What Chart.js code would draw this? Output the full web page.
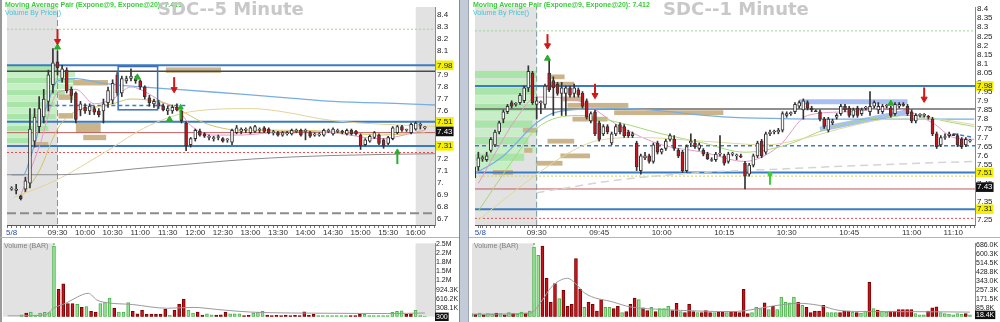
<!DOCTYPE html>
<html><head><meta charset="utf-8">
<script src="https://cdn.jsdelivr.net/npm/chart.js@4.4.1/dist/chart.umd.min.js"></script>
<style>
html,body{margin:0;padding:0;background:#fff;width:1000px;height:322px;overflow:hidden;font-family:"Liberation Sans",Arial,sans-serif}
canvas{position:absolute}
.t{position:absolute;white-space:nowrap;z-index:5}
.ln{position:absolute;z-index:4}
</style></head><body>
<canvas id="lp" style="left:0px;top:0px" width="460" height="238"></canvas>
<canvas id="lv" style="left:0px;top:238px" width="460" height="84"></canvas>
<canvas id="rp" style="left:468px;top:0px" width="532" height="238"></canvas>
<canvas id="rv" style="left:468px;top:238px" width="532" height="84"></canvas>
<div class="ln" style="left:0;top:0;width:2px;height:322px;background:#9a9a9a"></div>
<div class="ln" style="left:459px;top:0;width:10px;height:322px;background:#c3cbd8;border-left:1px solid #7d889c;border-right:1px solid #9aa4b6;box-sizing:border-box"></div>
<div class="ln" style="left:0;top:237px;width:459px;height:1px;background:#b4b4b4"></div>
<div class="ln" style="left:469px;top:237px;width:531px;height:1px;background:#b4b4b4"></div>
<div class="t" style="left:5px;top:1px;font:bold 7px 'Liberation Sans';color:#3ccc3c">Moving Average Pair (Expone@9, Expone@20): 7.419</div>
<div class="t" style="left:5px;top:9px;font:7px 'Liberation Sans';color:#3cc8d8">Volume By Price()</div>
<div class="t" style="left:158px;top:-2px;font:bold 18px 'DejaVu Sans';color:#c8c8c8">SDC--5 Minute</div>
<div class="t" style="left:473px;top:1px;font:bold 7px 'Liberation Sans';color:#3ccc3c">Moving Average Pair (Expone@9, Expone@20): 7.412</div>
<div class="t" style="left:473px;top:9px;font:7px 'Liberation Sans';color:#3cc8d8">Volume By Price()</div>
<div class="t" style="left:663px;top:-2px;font:bold 18px 'DejaVu Sans';color:#c8c8c8">SDC--1 Minute</div>
<div class="t" style="left:4px;top:242px;font:7px 'Liberation Sans';color:#808080">Volume (BAR)</div>
<div class="t" style="left:474px;top:242px;font:7px 'Liberation Sans';color:#808080">Volume (BAR)</div>
<script>
// ================= LEFT PANEL: 5-minute (t = minutes from 09:30) =================
const leftT = [-50,-45,-40,-35,-30,-25,-20,-15,-10,-5,0,5,10,15,20,25,30,35,40,45,50,55,60,65,70,75,80,85,90,95,100,105,110,115,120,125,130,135,140,145,150,155,160,165,170,175,180,185,190,195,200,205,210,215,220,225,230,235,240,245,250,255,260,265,270,275,280,285,290,295,300,305,310,315,320,325,330,335,340,345,350,355,360,365,370,375,380,385,390,395,400];
const leftO = [6.95,6.94,6.89,6.95,7.00,7.35,7.47,7.55,7.68,7.82,8.01,7.87,7.94,7.78,7.75,7.61,7.63,7.60,7.62,7.60,7.60,7.67,7.69,7.90,7.75,7.85,7.87,7.87,7.85,7.80,7.71,7.66,7.67,7.64,7.60,7.60,7.63,7.60,7.50,7.32,7.37,7.43,7.41,7.38,7.37,7.38,7.37,7.36,7.34,7.42,7.43,7.44,7.42,7.43,7.44,7.46,7.45,7.42,7.42,7.40,7.41,7.41,7.43,7.44,7.43,7.42,7.40,7.40,7.40,7.43,7.41,7.43,7.43,7.41,7.44,7.43,7.40,7.32,7.35,7.38,7.40,7.36,7.33,7.37,7.42,7.47,7.44,7.42,7.45,7.48,7.46];
const leftH = [6.97,6.99,6.90,7.05,7.62,7.62,7.72,7.78,7.94,8.12,8.10,7.98,7.96,7.80,7.76,7.68,7.66,7.66,7.64,7.62,7.70,7.80,7.86,7.92,7.89,7.89,7.95,7.89,7.86,7.81,7.73,7.70,7.69,7.66,7.64,7.65,7.66,7.61,7.51,7.38,7.45,7.45,7.42,7.40,7.39,7.40,7.38,7.37,7.45,7.48,7.46,7.46,7.47,7.48,7.46,7.47,7.46,7.44,7.43,7.43,7.43,7.45,7.45,7.45,7.45,7.43,7.42,7.42,7.45,7.45,7.46,7.45,7.44,7.45,7.45,7.44,7.41,7.37,7.40,7.43,7.41,7.37,7.39,7.47,7.48,7.48,7.45,7.50,7.51,7.50,7.47];
const leftL = [6.94,6.91,6.86,6.93,6.96,7.30,7.42,7.50,7.60,7.75,7.90,7.84,7.75,7.67,7.50,7.56,7.58,7.57,7.57,7.55,7.50,7.63,7.66,7.73,7.72,7.83,7.85,7.83,7.78,7.70,7.64,7.63,7.62,7.60,7.57,7.58,7.60,7.50,7.27,7.30,7.35,7.39,7.38,7.36,7.35,7.36,7.34,7.34,7.32,7.41,7.41,7.42,7.41,7.42,7.42,7.42,7.41,7.40,7.39,7.39,7.40,7.40,7.42,7.39,7.36,7.38,7.39,7.39,7.39,7.42,7.40,7.42,7.41,7.40,7.40,7.40,7.28,7.31,7.34,7.37,7.32,7.29,7.32,7.36,7.41,7.43,7.43,7.41,7.44,7.45,7.45];
const leftC = [6.955,6.95,6.87,7.02,7.45,7.55,7.62,7.70,7.90,8.00,7.96,7.95,7.77,7.73,7.53,7.66,7.60,7.64,7.59,7.57,7.66,7.77,7.83,7.75,7.87,7.87,7.89,7.85,7.80,7.72,7.67,7.68,7.64,7.61,7.62,7.63,7.61,7.52,7.31,7.37,7.44,7.40,7.39,7.39,7.375,7.385,7.35,7.365,7.44,7.46,7.45,7.445,7.46,7.47,7.445,7.43,7.42,7.425,7.40,7.42,7.415,7.44,7.435,7.40,7.435,7.39,7.405,7.405,7.44,7.435,7.45,7.435,7.425,7.44,7.41,7.41,7.31,7.36,7.39,7.42,7.33,7.31,7.38,7.46,7.47,7.44,7.445,7.49,7.50,7.485,7.465];
const leftVolT = [-35,-30,-25,-20,-15,-10,-5,0,5,10,15,20,25,30,35,40,45,50,55,60,65,70,75,80,85,90,95,100,105,110,115,120,125,130,135,140,145,150,155,160,165,170,175,180,185,190,195,200,205,210,215,220,225,230,235,240,245,250,255,260,265,270,275,280,285,290,295,300,305,310,315,320,325,330,335,340,345,350,355,360,365,370,375,380,385,390,395,400];
const leftVol = [64e3,130e3,160e3,60e3,130e3,150e3,140e3,2400e3,930e3,1120e3,450e3,450e3,420e3,320e3,350e3,190e3,160e3,450e3,480e3,640e3,290e3,160e3,160e3,480e3,190e3,100e3,220e3,90e3,90e3,90e3,90e3,260e3,60e3,220e3,420e3,600e3,220e3,130e3,160e3,60e3,100e3,70e3,60e3,70e3,160e3,100e3,100e3,100e3,40e3,50e3,130e3,150e3,190e3,60e3,45e3,50e3,40e3,55e3,45e3,50e3,40e3,170e3,50e3,80e3,40e3,45e3,40e3,45e3,40e3,40e3,45e3,40e3,45e3,80e3,80e3,40e3,45e3,40e3,40e3,45e3,150e3,190e3,200e3,80e3,100e3,220e3,40e3,20e3];
const leftVolDir = ['u','d','u','u','u','u','u','u','d','d','d','d','u','d','u','d','d','u','u','u','d','u','u','u','d','d','d','d','d','d','d','d','u','d','d','d','u','u','d','d','u','u','d','d','d','u','u','u','d','d','u','u','u','d','d','d','d','d','d','d','d','d','d','d','u','u','u','u','u','u','u','d','d','d','u','u','u','u','u','u','u','u','u','d','d','u','u','u'];
const leftVolAvgT = [-50,-10,0,14,25,37,46,53,85,122,150,176,212,300,360,400];
const leftVolAvg = [30e3,60e3,300e3,480e3,670e3,800e3,576e3,500e3,416e3,290e3,320e3,250e3,160e3,120e3,110e3,130e3];
// moving averages
const leftVwapT = [-50,-37,-30,-20,-10,0,20,50,130,200,250,300,380,411];
const leftVwap  = [7.07,7.07,7.2,7.45,7.68,7.85,7.87,7.83,7.78,7.74,7.71,7.68,7.66,7.65];
const leftSmaT = [-55,0,100,211,300,411];
const leftSma  = [7.07,7.07,7.13,7.20,7.23,7.245];
const leftEma9T = [-40,-20,0,20,40,60,80,100,115,130,145,170,200,250,300,350,400];
const leftEma9  = [6.90,7.30,7.75,7.78,7.66,7.70,7.80,7.74,7.67,7.62,7.48,7.40,7.40,7.43,7.42,7.37,7.44];
const leftEma20T = [-40,-20,0,20,40,60,80,100,120,140,160,200,250,300,350,400];
const leftEma20  = [6.88,7.10,7.45,7.60,7.63,7.66,7.70,7.69,7.66,7.58,7.50,7.44,7.44,7.43,7.40,7.42];
const leftSlowT = [-48,0,50,100,150,211,240,300,411];
const leftSlow  = [6.88,7.03,7.25,7.48,7.60,7.62,7.60,7.52,7.47];
// levels
const leftLevels = {blue:[7.98,7.51,7.31], dark:[7.93], red:[7.42], redDot:[7.255], greenDot:[8.28], grayDash:[6.75]};
const leftDashBlue = {price:7.645, from:-10, to:140};
// volume by price
const leftVbpPrice = [7.95,7.90,7.85,7.80,7.75,7.70,7.65,7.60,7.55,7.50,7.45,7.40,7.35];
const leftVbpEnd   = [0,19,19,17,8,0,-3,0,-2,-8,-10,-20,-30];
const leftTanPrice = [7.94,7.835,7.715,7.56,7.48,7.44,7.38,7.32];
const leftTanStart = [118,17,1,1,20,20,28,-25];
const leftTanEnd   = [178,55,17,17,47,47,53,-10];
// markers
const leftRedArrowT = [0,127], leftRedArrowP = [8.18,7.78];
const leftGreenTriT = [0,87,122], leftGreenTriP = [8.13,7.88,7.53];
const leftGreenArrowT = [134,370], leftGreenArrowP = [7.63,7.26];
const leftBox = {t0:66, t1:109, p0:7.61, p1:7.97};
// axes
const leftPriceTicks  = [8.4,8.3,8.2,8.1,7.98,7.9,7.8,7.7,7.6,7.51,7.43,7.31,7.2,7.1,7.0,6.9,6.8,6.7];
const leftPriceLabels = ['8.4','8.3','8.2','8.1','7.98','7.9','7.8','7.7','7.6','7.51','7.43','7.31','7.2','7.1','7.','6.9','6.8','6.7'];
const leftTimeTicks  = [-50,0,30,60,90,120,150,180,210,240,270,300,330,360,390];
const leftTimeLabels = ['5/8','09:30','10:00','10:30','11:00','11:30','12:00','12:30','13:00','13:30','14:00','14:30','15:00','15:30','16:00'];
const leftVolTicks  = [0,308100,616200,924300,1232400,1540500,1848600,2156700,2464800];
const leftVolLabels = ['300','308.1K','616.2K','924.3K','1.2M','1.5M','1.8M','2.2M','2.5M'];

// ================= RIGHT PANEL: 1-minute =================
const rightT = [-15,-14,-13,-12,-11,-10,-9,-8,-7,-6,-5,-4,-3,-2,-1,0,1,2,3,4,5,6,7,8,9,10,11,12,13,14,15,16,17,18,19,20,21,22,23,24,25,26,27,28,29,30,31,32,33,34,35,36,37,38,39,40,41,42,43,44,45,46,47,48,49,50,51,52,53,54,55,56,57,58,59,60,61,62,63,64,65,66,67,68,69,70,71,72,73,74,75,76,77,78,79,80,81,82,83,84,85,86,87,88,89,90,91,92,93,94,95,96,97,98,99,100,101,102,103,104];
const rightO = [7.48,7.54,7.585,7.58,7.63,7.66,7.73,7.80,7.84,7.89,7.88,7.89,7.90,7.97,8.05,7.88,7.89,7.88,8.05,8.01,7.99,7.94,7.94,7.97,7.94,7.96,7.94,7.90,7.79,7.84,7.78,7.72,7.76,7.67,7.72,7.77,7.76,7.73,7.71,7.67,7.52,7.59,7.60,7.57,7.67,7.62,7.64,7.69,7.69,7.63,7.62,7.52,7.67,7.67,7.64,7.63,7.61,7.575,7.58,7.61,7.60,7.57,7.61,7.60,7.60,7.56,7.50,7.55,7.60,7.68,7.62,7.72,7.73,7.73,7.74,7.82,7.83,7.84,7.87,7.85,7.89,7.86,7.845,7.84,7.80,7.74,7.78,7.81,7.83,7.87,7.86,7.82,7.86,7.83,7.86,7.84,7.87,7.85,7.84,7.87,7.86,7.83,7.87,7.88,7.87,7.84,7.79,7.82,7.82,7.815,7.80,7.72,7.66,7.70,7.71,7.715,7.71,7.69,7.66,7.68];
const rightH = [7.56,7.62,7.60,7.62,7.70,7.74,7.79,7.85,7.88,7.90,7.89,7.94,7.98,8.09,8.06,7.92,7.90,7.99,8.12,8.03,8.00,8.00,7.98,7.98,7.99,7.97,7.95,7.91,7.84,7.85,7.79,7.77,7.77,7.73,7.77,7.78,7.77,7.74,7.73,7.68,7.61,7.62,7.61,7.67,7.68,7.64,7.69,7.72,7.71,7.64,7.63,7.66,7.72,7.69,7.67,7.64,7.62,7.59,7.62,7.71,7.61,7.62,7.62,7.61,7.61,7.57,7.56,7.61,7.68,7.69,7.73,7.74,7.74,7.75,7.84,7.84,7.84,7.89,7.90,7.91,7.90,7.87,7.85,7.85,7.81,7.81,7.80,7.83,7.88,7.88,7.87,7.86,7.87,7.86,7.87,7.95,7.90,7.89,7.88,7.88,7.87,7.89,7.89,7.89,7.88,7.85,7.83,7.83,7.83,7.82,7.81,7.73,7.71,7.72,7.73,7.72,7.72,7.70,7.70,7.69];
const rightL = [7.45,7.52,7.57,7.57,7.62,7.65,7.72,7.78,7.83,7.86,7.87,7.88,7.89,7.95,7.88,7.80,7.83,7.86,7.95,7.82,7.93,7.82,7.82,7.92,7.92,7.92,7.86,7.80,7.78,7.71,7.68,7.71,7.72,7.66,7.71,7.72,7.70,7.70,7.70,7.52,7.50,7.58,7.56,7.56,7.61,7.61,7.63,7.68,7.63,7.59,7.51,7.51,7.65,7.64,7.63,7.60,7.58,7.57,7.57,7.60,7.55,7.56,7.60,7.58,7.59,7.42,7.49,7.54,7.59,7.59,7.61,7.71,7.72,7.72,7.73,7.81,7.82,7.83,7.86,7.80,7.85,7.84,7.84,7.79,7.75,7.73,7.77,7.80,7.82,7.84,7.81,7.81,7.81,7.82,7.85,7.82,7.86,7.83,7.83,7.86,7.81,7.82,7.86,7.87,7.82,7.78,7.78,7.81,7.81,7.80,7.71,7.64,7.65,7.69,7.70,7.71,7.65,7.64,7.65,7.675];
const rightC = [7.54,7.59,7.59,7.60,7.69,7.73,7.78,7.84,7.87,7.87,7.885,7.93,7.97,8.06,7.89,7.90,7.895,7.98,7.96,7.97,7.94,7.97,7.97,7.93,7.97,7.93,7.87,7.81,7.83,7.72,7.69,7.76,7.73,7.72,7.76,7.73,7.71,7.71,7.72,7.54,7.60,7.60,7.57,7.66,7.62,7.635,7.68,7.71,7.64,7.60,7.52,7.65,7.68,7.65,7.66,7.61,7.585,7.58,7.61,7.615,7.56,7.61,7.615,7.605,7.595,7.49,7.55,7.60,7.67,7.60,7.72,7.73,7.735,7.74,7.83,7.83,7.835,7.88,7.89,7.90,7.86,7.85,7.84,7.80,7.76,7.80,7.79,7.82,7.87,7.85,7.82,7.85,7.82,7.85,7.865,7.87,7.89,7.87,7.87,7.875,7.82,7.88,7.88,7.875,7.83,7.79,7.82,7.825,7.82,7.81,7.72,7.65,7.70,7.705,7.72,7.71,7.66,7.65,7.69,7.68];
const rightVol = [30e3,25e3,35e3,20e3,30e3,25e3,35e3,30e3,20e3,40e3,30e3,25e3,45e3,35e3,55e3,670e3,590e3,680e3,370e3,140e3,320e3,175e3,255e3,100e3,120e3,560e3,265e3,90e3,140e3,120e3,55e3,165e3,90e3,90e3,80e3,100e3,40e3,50e3,120e3,180e3,165e3,85e3,60e3,90e3,50e3,80e3,80e3,100e3,60e3,130e3,50e3,40e3,120e3,50e3,40e3,40e3,60e3,40e3,40e3,50e3,50e3,40e3,50e3,50e3,40e3,265e3,30e3,40e3,90e3,80e3,135e3,70e3,100e3,70e3,190e3,140e3,135e3,190e3,140e3,110e3,90e3,40e3,55e3,55e3,110e3,40e3,40e3,40e3,40e3,55e3,55e3,45e3,40e3,35e3,55e3,330e3,80e3,65e3,55e3,45e3,55e3,55e3,70e3,70e3,70e3,70e3,30e3,20e3,20e3,55e3,85e3,95e3,40e3,30e3,25e3,20e3,30e3,25e3,30e3,18.4e3];
const rightVolDir = ['u','d','u','d','u','u','d','u','d','u','d','u','u','d','u','u','u','d','d','d','d','u','d','d','d','d','d','u','d','d','d','d','u','u','d','d','u','d','d','d','u','d','d','u','d','u','u','u','d','d','u','d','d','d','u','d','d','d','u','d','d','u','d','d','d','d','d','u','u','u','d','u','d','u','u','u','u','u','d','u','d','d','d','d','d','u','u','u','d','d','d','u','d','u','u','d','u','d','u','u','d','d','d','d','d','d','u','u','u','d','d','d','u','u','u','u','u','u','d','u'];
const rightVolAvgT = [-15,-1,2,4,8,10,12,19,23,31,47,59,63,68,73,80,87,104];
const rightVolAvg  = [25e3,35e3,160e3,280e3,370e3,315e3,230e3,140e3,95e3,70e3,50e3,115e3,130e3,110e3,60e3,50e3,50e3,45e3];
const rightVwapT = [-15,-8,0,5,19,47,80,105];
const rightVwap  = [7.50,7.60,7.78,7.84,7.86,7.81,7.80,7.80];
const rightSmaT = [0,20,40,60,80,105];
const rightSma  = [7.40,7.47,7.51,7.53,7.55,7.57];
const rightEma20T = [-14,-8,0,8,14,25,40,55,65,75,85,95,105];
const rightEma20  = [7.25,7.36,7.50,7.62,7.68,7.70,7.68,7.66,7.70,7.76,7.80,7.80,7.77];
const rightEma9T = [-14,-5,0,10,20,30,40,50,58,65,75,85,95,100,105];
const rightEma9  = [7.45,7.80,7.92,7.90,7.76,7.66,7.62,7.57,7.65,7.82,7.84,7.86,7.78,7.70,7.69];
const rightGreenMaT = [-14,-5,0,10,20,30,40,50,60,70,80,90,100,105];
const rightGreenMa  = [7.30,7.60,7.75,7.82,7.78,7.72,7.67,7.62,7.66,7.75,7.80,7.82,7.78,7.76];
const rightLevels = {blue:[7.98,7.51,7.31], dark:[7.855], red:[7.42], redDot:[7.26], greenDot:[8.28], yellowDot:[7.49], blueDash:[7.655]};
const rightTrendT = [100,105], rightTrendP = [7.72,7.70];
const rightBandT = [[63,89],[68,89]], rightBandP = [[7.895,7.895],[7.745,7.84]];
const rightVbpPrice = [8.04,7.995,7.95,7.905,7.86,7.815,7.77,7.725,7.68,7.635,7.59,7.545];
const rightVbpEnd   = [0,0,0,0,0,0,-1,0,-2,0,-3,-6];
const rightTanPrice = [8.03,7.99,7.91,7.875,7.835,7.80,7.74,7.68,7.63,7.60,7.56,7.51];
const rightTanStart = [3.3,3.3,6.2,7.4,18.6,8.6,-3.3,2.6,-3,5.7,-0.2,-10.5];
const rightTanEnd   = [6.7,9,11.4,22,44.8,17,0.2,9,-1,12.8,6.2,-5.7];
const rightRedArrowT = [2.6,14,93], rightRedArrowP = [8.20,7.93,7.91];
const rightGreenTriT = [2.6,85], rightGreenTriP = [8.13,7.885];
const rightGreenArrowT = [56], rightGreenArrowP = [7.50];
const rightPriceTicks  = [8.4,8.35,8.3,8.25,8.2,8.15,8.1,8.05,8.0,7.98,7.95,7.9,7.85,7.8,7.75,7.7,7.65,7.6,7.55,7.51,7.45,7.43,7.35,7.31,7.25];
const rightPriceLabels = ['8.4','8.35','8.3','8.25','8.2','8.15','8.1','8.05','8','7.98','7.95','7.9','7.85','7.8','7.75','7.7','7.65','7.6','7.55','7.51','7.45','7.43','7.35','7.31','7.25'];
const rightTimeTicks  = [-13.5,0,15,30,45,60,75,90,100];
const rightTimeLabels = ['5/8','09:30','09:45','10:00','10:15','10:30','10:45','11:00','11:10'];
const rightVolTicks  = [18400,85760,171520,257280,343040,428800,514560,600320,686080];
const rightVolLabels = ['18.4K','85.8K','171.5K','257.3K','343.0K','428.8K','514.5K','600.3K','686.0K'];
const yellowKeys = [7.98,7.51,7.31];
const lastPrice = 7.43;

// ================= rendering helpers =================
const FONT = 'Liberation Sans';
const UP='#ffffff', DN='#c8141c', EDGE='#333333';
function pts(T,V){return T.map((t,i)=>({x:t,y:V[i]}));}
function hline(v,x0,x1,color,w,dash,order){return {type:'line',data:[{x:x0,y:v},{x:x1,y:v}],borderColor:color,borderWidth:w,borderDash:dash||[],pointRadius:0,order:order||20};}
function maLine(T,V,color,w,dash){return {type:'line',data:pts(T,V),borderColor:color,borderWidth:w||1,borderDash:dash||[],pointRadius:0,cubicInterpolationMode:'monotone',order:15};}
function candleSets(T,O,Hh,L,C,bw){
  return [
    {type:'bar',data:T.map((t,i)=>({x:t,y:[L[i],Hh[i]]})),backgroundColor:EDGE,barThickness:1,grouped:false,order:6},
    {type:'bar',data:T.map((t,i)=>({x:t,y:[O[i],C[i]]})),backgroundColor:T.map((t,i)=>C[i]>=O[i]?UP:DN),borderColor:EDGE,borderWidth:1,borderSkipped:false,barThickness:bw,minBarLength:1,grouped:false,order:5}
  ];
}
function markers(T,P,style,color,rot,r){return {type:'scatter',data:pts(T,P),pointStyle:style,rotation:rot||0,pointRadius:r||3.5,backgroundColor:color,borderColor:color,borderWidth:1,order:1};}
function arrowStems(T,P,color,off){return {type:'scatter',data:T.map((t,i)=>({x:t,y:P[i]+off})),pointStyle:'line',rotation:90,pointRadius:5,borderColor:color,borderWidth:2,order:1};}
function bgPlugin(o){
  return {id:'bg',beforeDatasetsDraw(chart){
    const {ctx,chartArea:a,scales:{x,y}}=chart; ctx.save(); ctx.beginPath(); ctx.rect(a.left,a.top,a.width,a.height); ctx.clip();
    ctx.fillStyle='#e2e2e2';
    (o.shade||[]).forEach(([s,e])=>{const x0=x.getPixelForValue(s),x1=x.getPixelForValue(e);ctx.fillRect(x0,a.top,x1-x0,a.height);});
    if(o.vbp){ o.vbp.price.forEach((p,i)=>{const y0=y.getPixelForValue(p+o.vbp.h/2),y1=y.getPixelForValue(p-o.vbp.h/2);const x1=x.getPixelForValue(o.vbp.end[i]);
        ctx.fillStyle=i%2?'#c6efc6':'#a9e5a9'; ctx.fillRect(a.left,y0,x1-a.left,y1-y0-1);}); }
    if(o.tan){ o.tan.price.forEach((p,i)=>{const y0=y.getPixelForValue(p+o.tan.h/2),y1=y.getPixelForValue(p-o.tan.h/2);const x0=x.getPixelForValue(o.tan.s[i]),x1=x.getPixelForValue(o.tan.e[i]);
        ctx.fillStyle='#cbb48a'; ctx.fillRect(x0,y0,x1-x0,y1-y0);}); }
    ctx.restore();
  },afterDatasetsDraw(chart){
    if(!o.box) return; const {ctx,scales:{x,y}}=chart; const b=o.box; ctx.save(); ctx.strokeStyle='#3d6fb8'; ctx.lineWidth=1.5;
    const x0=x.getPixelForValue(b.t0),x1=x.getPixelForValue(b.t1),y0=y.getPixelForValue(b.p1),y1=y.getPixelForValue(b.p0);
    ctx.strokeRect(x0,y0,x1-x0,y1-y0); ctx.restore();
  }};
}
function yAxis(min,max,ticks,labels,width,fsize){
  const isVol = labels===leftVolLabels||labels===rightVolLabels;
  return {type:'linear',position:'right',min,max,
    afterBuildTicks:s=>{s.ticks=ticks.map(v=>({value:v}));},
    afterFit:s=>{s.width=width;},
    grid:{display:false,drawTicks:false},border:{display:true,color:'#8a8a8a'},
    ticks:{autoSkip:false,padding:isVol?1:2,font:{size:fsize||8,family:FONT},
      callback:(v,i)=>labels[i],
      color:c=>(!isVol&&c.tick&&c.tick.value===lastPrice)||(isVol&&c.index===0)?'#ffffff':'#222',
      showLabelBackdrop:c=>isVol?c.index===0:(!!c.tick&&(yellowKeys.includes(c.tick.value)||c.tick.value===lastPrice)),
      backdropColor:c=>!isVol&&c.tick&&yellowKeys.includes(c.tick.value)?'#f4f000':'#111',
      backdropPadding:{top:0,bottom:0,left:1,right:1}}};
}
function xAxis(min,max,step,majT,majL,show){
  const all=[]; for(let v=Math.ceil(min/step)*step; v<=max; v+=step) all.push(v);
  majT.forEach(v=>{ if(!all.includes(v)) all.push(v); }); all.sort((a,b)=>a-b);
  return {type:'linear',min,max,display:show,offset:false,
    afterBuildTicks:s=>{s.ticks=all.map(v=>({value:v}));},
    afterFit:s=>{s.height=13;},
    grid:{offset:false,drawOnChartArea:false,drawTicks:true,tickLength:3,color:'#777'},border:{display:true,color:'#555'},
    ticks:{autoSkip:false,maxRotation:0,minRotation:0,padding:0,font:{size:8,family:FONT},
      color:c=>c.tick&&majL[majT.indexOf(c.tick.value)]==='5/8'?'#2a4fa8':'#333',
      callback:v=>{const k=majT.indexOf(v);return k>=0?majL[k]:'';}}};
}
const base={responsive:false,animation:false,devicePixelRatio:1,events:[],plugins:{legend:{display:false},tooltip:{enabled:false}}};

// ================= LEFT PRICE =================
const LX0=-55, LX1=411;
new Chart(document.getElementById('lp'),{type:'bar',data:{datasets:[
  ...leftLevels.blue.map(v=>hline(v,LX0,LX1,'#3a7cc2',2)),
  ...leftLevels.dark.map(v=>hline(v,LX0,LX1,'#4a4a4a',1.5)),
  ...leftLevels.red.map(v=>hline(v,LX0,LX1,'#c05a5a',1)),
  ...leftLevels.redDot.map(v=>hline(v,LX0,LX1,'#e05050',1,[2,2])),
  ...leftLevels.greenDot.map(v=>hline(v,LX0,LX1,'#9ad89a',1,[2,2])),
  ...leftLevels.grayDash.map(v=>hline(v,LX0,LX1,'#8c8c8c',2,[9,4])),
  hline(leftDashBlue.price,leftDashBlue.from,leftDashBlue.to,'#3a7cc2',1.5,[4,3]),
  {type:'line',data:[{x:0,y:6.66},{x:0,y:8.46}],borderColor:'#7a9a9a',borderWidth:1,borderDash:[6,3],pointRadius:0,order:20},
  maLine(leftSmaT,leftSma,'#8c8c8c',1),
  maLine(leftSlowT,leftSlow,'#e3d39a',1),
  maLine(leftEma20T,leftEma20,'#cfc46a',1),
  maLine(leftEma9T,leftEma9,'#e49ac6',1),
  maLine(leftVwapT,leftVwap,'#79aee0',1.3),
  ...candleSets(leftT,leftO,leftH,leftL,leftC,3),
  arrowStems(leftRedArrowT,leftRedArrowP,'#d01818',0.06),
  markers(leftRedArrowT,leftRedArrowP,'triangle','#d01818',180,3.5),
  markers(leftGreenTriT,leftGreenTriP,'triangle','#2cae2c',0,3.5),
  arrowStems(leftGreenArrowT,leftGreenArrowP,'#2cae2c',-0.06),
  markers(leftGreenArrowT,leftGreenArrowP,'triangle','#2cae2c',0,3)
]},options:{...base,layout:{padding:{left:3,top:2,right:0,bottom:0}},scales:{
  x:xAxis(LX0,LX1,5,leftTimeTicks,leftTimeLabels,true),
  y:yAxis(6.652,8.465,leftPriceTicks,leftPriceLabels,25)}},
 plugins:[bgPlugin({shade:[[LX0,0],[390,LX1]],vbp:{price:leftVbpPrice,end:leftVbpEnd,h:0.05},tan:{price:leftTanPrice,s:leftTanStart,e:leftTanEnd,h:0.045},box:leftBox})]});

// ================= LEFT VOLUME =================
new Chart(document.getElementById('lv'),{type:'bar',data:{datasets:[
  {type:'line',data:[{x:0,y:0},{x:0,y:2.5e6}],borderColor:'#3aa83a',borderWidth:1.5,borderDash:[6,3],pointRadius:0,order:20},
  {type:'line',data:pts(leftVolAvgT,leftVolAvg),borderColor:'#9a9a9a',borderWidth:1,pointRadius:0,cubicInterpolationMode:'monotone',order:1},
  {type:'bar',data:pts(leftVolT,leftVol),backgroundColor:leftVolDir.map(d=>d==='u'?'#98e598':DN),borderColor:leftVolDir.map(d=>d==='u'?'#4fb04f':'#7a0000'),borderWidth:1,borderSkipped:false,barThickness:3,grouped:false,order:5}
]},options:{...base,layout:{padding:{left:3,top:2,right:0,bottom:4}},scales:{
  x:{type:'linear',min:LX0,max:LX1,display:false,offset:false,grid:{offset:false}},
  y:yAxis(0,2.5e6,leftVolTicks,leftVolLabels,25,7)}},
 plugins:[bgPlugin({shade:[[LX0,0],[390,LX1]]})]});

// ================= RIGHT PRICE =================
const RX0=-14.8, RX1=105.2;
new Chart(document.getElementById('rp'),{type:'bar',data:{datasets:[
  ...rightLevels.blue.map(v=>hline(v,RX0,RX1,'#3a7cc2',2)),
  ...rightLevels.dark.map(v=>hline(v,RX0,RX1,'#6a6a6a',1.5)),
  ...rightLevels.red.map(v=>hline(v,RX0,RX1,'#c05a5a',1)),
  ...rightLevels.redDot.map(v=>hline(v,RX0,RX1,'#e05050',1,[2,2])),
  ...rightLevels.greenDot.map(v=>hline(v,RX0,RX1,'#9ad89a',1,[2,2])),
  ...rightLevels.yellowDot.map(v=>hline(v,RX0,RX1,'#c8d860',1,[2,2])),
  ...rightLevels.blueDash.map(v=>hline(v,RX0,RX1,'#3a7cc2',1.5,[4,3])),
  {type:'line',data:pts(rightTrendT,rightTrendP),borderColor:'#3a7cc2',borderWidth:1.5,borderDash:[4,3],pointRadius:0,order:20},
  {type:'line',data:[{x:0,y:7.22},{x:0,y:8.41}],borderColor:'#7a9a9a',borderWidth:1,borderDash:[6,3],pointRadius:0,order:20},
  ...rightBandT.map((T,i)=>({type:'line',data:pts(T,rightBandP[i]),borderColor:'rgba(110,150,235,0.6)',borderWidth:5,pointRadius:0,order:16})),
  maLine(rightSmaT,rightSma,'#d4d4d4',1.5,[8,5]),
  maLine(rightEma20T,rightEma20,'#e0d89a',1),
  maLine(rightGreenMaT,rightGreenMa,'#a6d77a',1),
  maLine(rightEma9T,rightEma9,'#e49ac6',1),
  maLine(rightVwapT,rightVwap,'#79aee0',1.3),
  ...candleSets(rightT,rightO,rightH,rightL,rightC,3),
  arrowStems(rightRedArrowT,rightRedArrowP,'#d01818',0.035),
  markers(rightRedArrowT,rightRedArrowP,'triangle','#d01818',180,3.5),
  markers(rightGreenTriT,rightGreenTriP,'triangle','#2cae2c',0,3.5),
  arrowStems(rightGreenArrowT,rightGreenArrowP,'#3ad03a',-0.03),
  markers(rightGreenArrowT,rightGreenArrowP,'circle','#3ad03a',0,2)
]},options:{...base,layout:{padding:{left:4,top:0,right:0,bottom:0}},scales:{
  x:xAxis(RX0,RX1,1,rightTimeTicks,rightTimeLabels,true),
  y:yAxis(7.224,8.41,rightPriceTicks,rightPriceLabels,25)}},
 plugins:[bgPlugin({shade:[[RX0,0]],vbp:{price:rightVbpPrice,end:rightVbpEnd,h:0.045},tan:{price:rightTanPrice,s:rightTanStart,e:rightTanEnd,h:0.026}})]});

// ================= RIGHT VOLUME =================
new Chart(document.getElementById('rv'),{type:'bar',data:{datasets:[
  {type:'line',data:[{x:0,y:0},{x:0,y:7.1e5}],borderColor:'#3aa83a',borderWidth:1.5,borderDash:[6,3],pointRadius:0,order:20},
  {type:'line',data:pts(rightVolAvgT,rightVolAvg),borderColor:'#9a9a9a',borderWidth:1,pointRadius:0,cubicInterpolationMode:'monotone',order:1},
  {type:'bar',data:pts(rightT,rightVol),backgroundColor:rightVolDir.map(d=>d==='u'?'#98e598':DN),borderColor:rightVolDir.map(d=>d==='u'?'#4fb04f':'#7a0000'),borderWidth:1,borderSkipped:false,barThickness:3,grouped:false,order:5}
]},options:{...base,layout:{padding:{left:4,top:2,right:0,bottom:4}},scales:{
  x:{type:'linear',min:RX0,max:RX1,display:false,offset:false,grid:{offset:false}},
  y:yAxis(0,7.07e5,rightVolTicks,rightVolLabels,25,7)}},
 plugins:[bgPlugin({shade:[[RX0,0]]})]});
</script>
</body></html>
